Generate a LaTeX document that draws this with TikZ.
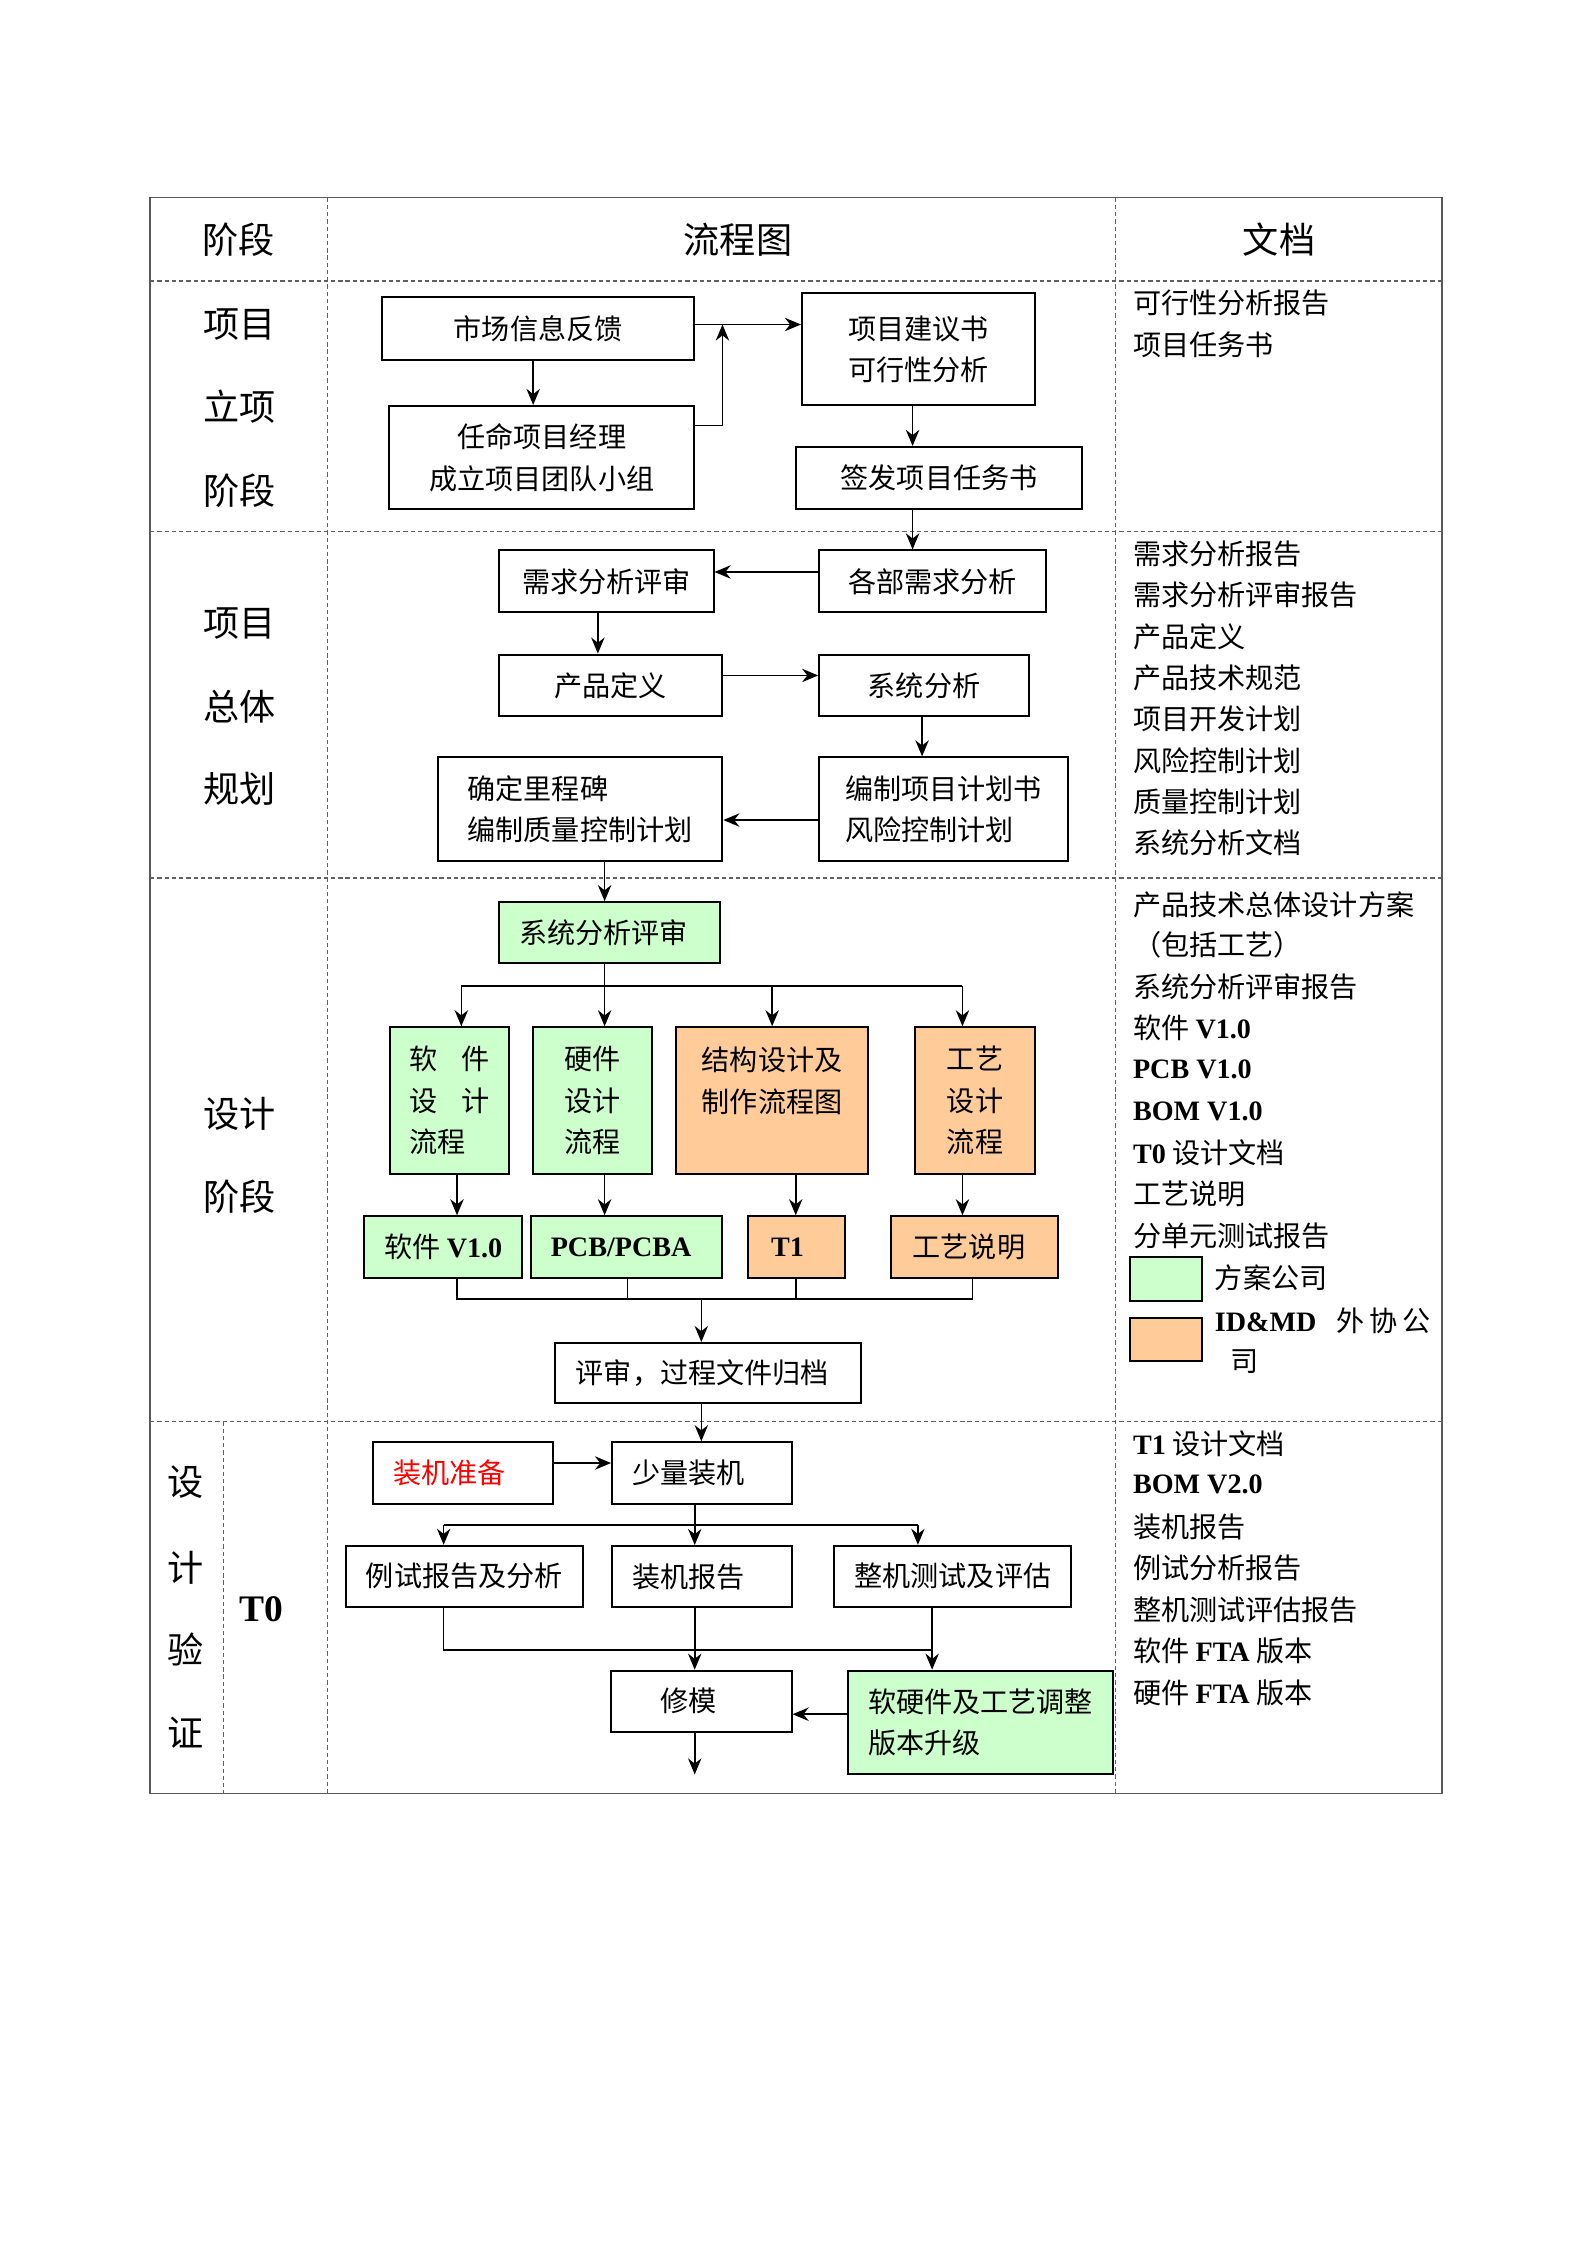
\documentclass[tikz,border=0pt]{standalone}
\usepackage{fontspec}
\setmainfont{Noto Sans CJK SC}
\newfontfamily\tnr{Liberation Serif}
\usetikzlibrary{arrows.meta,calc}
\newcommand{\lb}[1]{{\tnr\bfseries #1}}
\newcommand{\lft}[2]{\hbox{#2\kern#1}}
\newcommand{\fs}{\fontsize{10.5}{15.5}\selectfont}
\newcommand{\fst}{\fontsize{13.5}{16}\selectfont}
\definecolor{gfill}{HTML}{CCFFCC}
\definecolor{ofill}{HTML}{FFCC99}
\definecolor{gridc}{HTML}{606060}
\begin{document}
\begin{tikzpicture}[x=0.5365pt,y=-0.5365pt,
  box/.style={draw, line width=0.75pt, inner sep=0pt, align=center, font=\fs},
  sz/.style 2 args={minimum width=#1*0.5365pt, minimum height=#2*0.5365pt},
  grn/.style={fill=gfill}, org/.style={fill=ofill},
  arr/.style={line width=0.6pt, -{Stealth[length=6pt,width=5pt]}},
  ln/.style={line width=0.6pt},
  doc/.style={anchor=west, inner sep=0pt, font=\fs},
  stg/.style={inner sep=0pt, font=\fst},
  tline/.style={gridc, line width=0.5pt, dash pattern=on 1.6pt off 1.1pt}]
\fill[white] (0,0) rectangle (1109,1567);
\useasboundingbox (0,0) rectangle (1109,1567);
% table
\draw[tline] (104.5,195.5) -- (1003.5,195.5);
\draw[tline] (104.5,370) -- (1003.5,370);
\draw[tline] (104.5,611) -- (1003.5,611);
\draw[tline] (104.5,989) -- (1003.5,989);
\draw[tline] (228,137.5) -- (228,1248);
\draw[tline] (776,137.5) -- (776,1248);
\draw[tline] (155.5,989) -- (155.5,1248);
\draw[gray!70!black, line width=0.6pt] (104.5,137.5) rectangle (1003.5,1248);
% headers
\node[stg] (h1) at (166,167) {阶段};
\node[stg] (h2) at (513.5,167) {流程图};
\node[stg] (h3) at (890,167) {文档};
% stage labels
\node[stg] (s1a) at (166.5,226) {项目};
\node[stg] (s1b) at (166.5,283) {立项};
\node[stg] (s1c) at (166.5,341.5) {阶段};
\node[stg] (s2a) at (166.5,434) {项目};
\node[stg] (s2b) at (166.5,492) {总体};
\node[stg] (s2c) at (166.5,549) {规划};
\node[stg] (s3a) at (166.5,774.8) {设计};
\node[stg] (s3b) at (166.5,832.4) {阶段};
\node[stg] (s4a) at (129,1031.4) {设};
\node[stg] (s4b) at (129,1090.8) {计};
\node[stg] (s4c) at (129,1147.8) {验};
\node[stg] (s4d) at (129,1206) {证};
\node[inner sep=0pt, font=\fontsize{14}{16}\selectfont\tnr\bfseries] (t0) at (181.6,1120) {T0};
% documents
\node[doc] (d11) at (788,211) {可行性分析报告};
\node[doc] (d12) at (788,240) {项目任务书};
\node[doc] (d21) at (788,385.5) {需求分析报告};
\node[doc] (d22) at (788,414.2) {需求分析评审报告};
\node[doc] (d23) at (788,443) {产品定义};
\node[doc] (d24) at (788,471.7) {产品技术规范};
\node[doc] (d25) at (788,500.5) {项目开发计划};
\node[doc] (d26) at (788,529.2) {风险控制计划};
\node[doc] (d27) at (788,558) {质量控制计划};
\node[doc] (d28) at (788,586.7) {系统分析文档};
\node[doc] (d31) at (788,629.5) {产品技术总体设计方案};
\node[doc] (d32) at (788,657.5) {（包括工艺）};
\node[doc] (d33) at (788,687) {系统分析评审报告};
\node[doc] (d34) at (788,715.5) {软件 \lb{V1.0}};
\node[doc] (d35) at (788,744) {\lb{PCB V1.0}};
\node[doc] (d36) at (788,773) {\lb{BOM V1.0}};
\node[doc] (d37) at (788,802) {\lb{T0} 设计文档};
\node[doc] (d38) at (788,831) {工艺说明};
\node[doc] (d39) at (788,860) {分单元测试报告};
\node[draw, line width=0.75pt, grn, inner sep=0pt, sz={50}{30.5}] (lgg) at (811.2,889.7) {};
\node[doc] (lgt1) at (845,889) {方案公司};
\node[draw, line width=0.75pt, org, inner sep=0pt, sz={50}{30}] (lgo) at (811.2,932) {};
\node[doc] (lgt2) at (845,918.9) {\lb{ID\&MD}\hspace{7.4pt}外\hspace{1.8pt}协\hspace{1.8pt}公};
\node[doc] (lgt3) at (855.5,947.7) {司};
\node[doc] (d41) at (788,1004.6) {\lb{T1} 设计文档};
\node[doc] (d42) at (788,1033) {\lb{BOM V2.0}};
\node[doc] (d43) at (788,1062.4) {装机报告};
\node[doc] (d44) at (788,1090.8) {例试分析报告};
\node[doc] (d45) at (788,1119.9) {整机测试评估报告};
\node[doc] (d46) at (788,1149) {软件 \lb{FTA} 版本};
\node[doc] (d47) at (788,1178) {硬件 \lb{FTA} 版本};
% flow boxes
\node[box, sz={217}{44}] (scxx) at (374.5,228.5) {市场信息反馈};
\node[box, sz={212}{72}] (rmjl) at (377,318.5) {任命项目经理\\成立项目团队小组};
\node[box, sz={162}{78}] (xmjy) at (639,243) {项目建议书\\可行性分析};
\node[box, sz={199}{43}] (qfrw) at (653.5,332.5) {签发项目任务书};
\node[box, sz={149}{43}] (xqps) at (422,404.5) {需求分析评审};
\node[box, sz={158}{43}] (gbxq) at (649,404.5) {各部需求分析};
\node[box, sz={155}{43}] (cpdy) at (424.7,477) {产品定义};
\node[box, sz={146}{43}] (xtfx) at (643,477) {系统分析};
\node[box, sz={198}{72}, align=left] (qdlc) at (403.6,563) {确定里程碑\\编制质量控制计划};
\node[box, sz={173}{72}, align=left] (bzxm) at (656.5,563) {编制项目计划书\\风险控制计划};
\node[box, grn, sz={154}{42.5}] (xtps) at (424,649) {\lft{4.3pt}{系统分析评审}};
\node[box, grn, sz={83}{102}, align=left] (rjsj) at (312.8,765.8) {软\hspace{0.85em}件\\设\hspace{0.85em}计\\流程};
\node[box, grn, sz={83}{102}] (yjsj) at (412.4,765.8) {硬件\\设计\\流程};
\node[box, org, sz={133.5}{102}, align=left] (jgsj) at (537.3,765.8) {结构设计及\\制作流程图\\~};
\node[box, org, sz={83}{102}] (gysj) at (678.5,765.8) {工艺\\设计\\流程};
\node[box, grn, sz={109.6}{43}] (rjv1) at (308.4,867.8) {软件 \lb{V1.0}};
\node[box, grn, sz={133}{43}] (pcba) at (436.2,867.8) {\lft{4.3pt}{\lb{PCB/PCBA}}};
\node[box, org, sz={67.4}{43}] (t1) at (554,867.8) {\lft{6.4pt}{\lb{T1}}};
\node[box, org, sz={116.6}{43}] (gysm) at (678.2,867.8) {\lft{4.3pt}{工艺说明}};
\node[box, sz={213.4}{42}] (psgd) at (492.7,955.5) {\lft{4.3pt}{评审，过程文件归档}};
\node[box, sz={125.4}{43}, text=red] (zjzb) at (322.2,1025) {\lft{10pt}{装机准备}};
\node[box, sz={125}{43}] (slzj) at (488.4,1025) {\lft{10pt}{少量装机}};
\node[box, sz={164.6}{42.4}] (lsbg) at (323.1,1096.8) {例试报告及分析};
\node[box, sz={125}{42.5}] (zjbg) at (488.4,1097) {\lft{10pt}{装机报告}};
\node[box, sz={164.7}{42.4}] (zjcs) at (663,1096.8) {整机测试及评估};
\node[box, sz={126}{42.4}] (xm) at (487.8,1183.7) {\lft{9.4pt}{修模}};
\node[box, grn, sz={184.6}{72.2}, align=left] (rygj) at (682.3,1198.6) {软硬件及工艺调整\\版本升级};
% helper coordinates
\coordinate (xa) at (371,0);
\coordinate (j1) at (502.7,225.8);
\coordinate (xb) at (635,0);
\coordinate (yc) at (0,398);
\coordinate (xd) at (416,0);
\coordinate (ye) at (0,470);
\coordinate (xf) at (641.6,0);
\coordinate (yg) at (0,570.6);
\coordinate (xh) at (420.7,0);
\coordinate (sp1) at (420.7,686);
\coordinate (spL) at (321,686);
\coordinate (sp3) at (537.3,686);
\coordinate (spR) at (669.7,686);
\coordinate (xi) at (318,0);
\coordinate (xj) at (553.7,0);
\coordinate (m1) at (318,903.8);
\coordinate (m2) at (436.5,903.8);
\coordinate (m3) at (553.7,903.8);
\coordinate (m4) at (676.7,903.8);
\coordinate (mc) at (488,903.8);
\coordinate (xk) at (488,0);
\coordinate (yl) at (0,1018);
\coordinate (q1) at (483.4,1061.2);
\coordinate (qL) at (308.7,1061.2);
\coordinate (qR) at (638.7,1061.2);
\coordinate (r1) at (308.7,1148.3);
\coordinate (r2) at (648.6,1148.3);
\coordinate (xq) at (483.4,0);
\coordinate (yt) at (0,1192.8);
\coordinate (endp) at (483.4,1234.7);
% connectors
\draw[arr] (scxx.south -| xa) -- (rmjl.north -| xa);
\draw[arr] ([yshift=-7.7pt]rmjl.north east) -| (j1);
\draw[arr] (scxx.east |- j1) -- (xmjy.west |- j1);
\draw[arr] (xmjy.south -| xb) -- (qfrw.north -| xb);
\draw[arr] (qfrw.south -| xb) -- (gbxq.north -| xb);
\draw[arr] (gbxq.west |- yc) -- (xqps.east |- yc);
\draw[arr] (xqps.south -| xd) -- (cpdy.north -| xd);
\draw[arr] (cpdy.east |- ye) -- (xtfx.west |- ye);
\draw[arr] (xtfx.south -| xf) -- (bzxm.north -| xf);
\draw[arr] (bzxm.west |- yg) -- (qdlc.east |- yg);
\draw[arr] (qdlc.south -| xh) -- (xtps.north -| xh);
\draw[ln] (xtps.south -| xh) -- (sp1);
\draw[ln] (spL) -- (spR);
\draw[arr] (spL) -- (rjsj.north -| spL);
\draw[arr] (sp1) -- (yjsj.north -| sp1);
\draw[arr] (sp3) -- (jgsj.north -| sp3);
\draw[arr] (spR) -- (gysj.north -| spR);
\draw[arr] (rjsj.south -| xi) -- (rjv1.north -| xi);
\draw[arr] (yjsj.south -| xh) -- (pcba.north -| xh);
\draw[arr] (jgsj.south -| xj) -- (t1.north -| xj);
\draw[arr] (gysj.south -| spR) -- (gysm.north -| spR);
\draw[ln] (rjv1.south -| m1) -- (m1) -- (m4) -- (gysm.south -| m4);
\draw[ln] (pcba.south -| m2) -- (m2);
\draw[ln] (t1.south -| m3) -- (m3);
\draw[arr] (mc) -- (psgd.north -| mc);
\draw[arr] (psgd.south -| xk) -- (slzj.north -| xk);
\draw[arr] (zjzb.east |- yl) -- (slzj.west |- yl);
\draw[ln] (slzj.south -| xq) -- (q1);
\draw[ln] (qL) -- (qR);
\draw[arr] (qL) -- (lsbg.north -| qL);
\draw[arr] (q1) -- (zjbg.north -| q1);
\draw[arr] (qR) -- (zjcs.north -| qR);
\draw[ln] (lsbg.south -| r1) -- (r1) -- (r2);
\draw[arr] (zjbg.south -| xq) -- (xm.north -| xq);
\draw[arr] (zjcs.south -| r2) -- (rygj.north -| r2);
\draw[arr] (rygj.west |- yt) -- (xm.east |- yt);
\draw[arr] (xm.south -| xq) -- (endp);
\end{tikzpicture}
\end{document}
